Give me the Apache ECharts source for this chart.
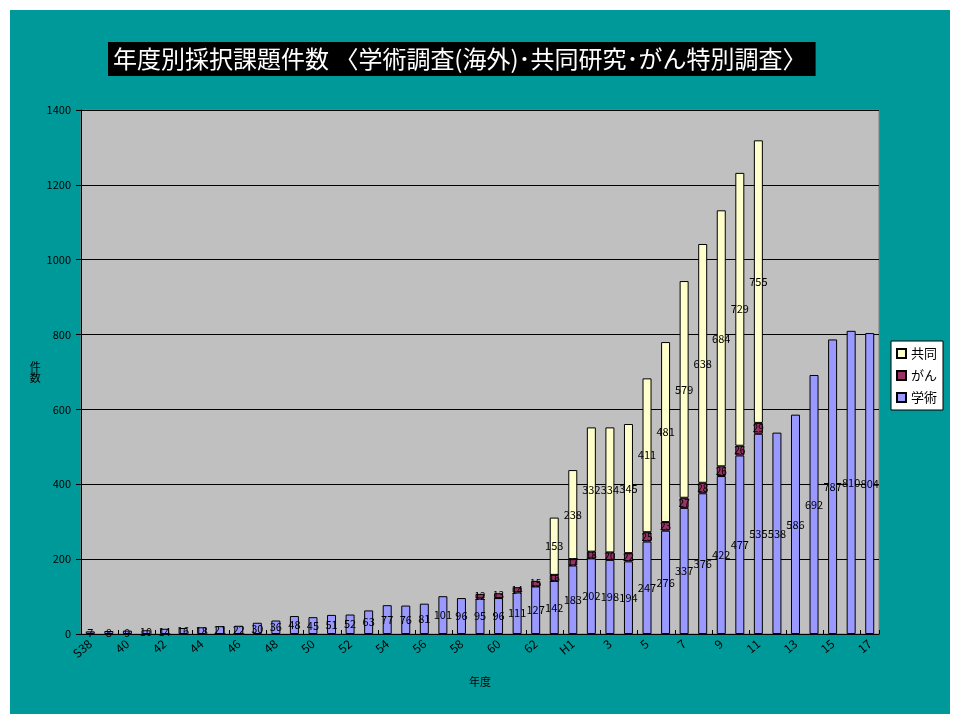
<!DOCTYPE html>
<html><head><meta charset="utf-8">
<script src="https://cdn.jsdelivr.net/npm/echarts@6/dist/echarts.min.js"></script>
<style>
html,body{margin:0;padding:0;background:#fff;width:960px;height:724px;overflow:hidden;}
#c{position:absolute;left:10px;top:10px;width:940px;height:704px;}
</style></head>
<body><div id="c"></div>
<script>
const categories = ['S38','39','40','41','42','43','44','45','46','47','48','49','50','51','52','53','54','55','56','57','58','59','60','61','62','63',
  'H1','2','3','4','5','6','7','8','9','10','11','12','13','14','15','16','17'];
const gakujutsu = [7,8,9,10,14,16,18,21,22,30,36,48,45,51,52,63,77,76,81,101,96,95,96,111,127,142,
  183,202,198,194,247,276,337,376,422,477,535,538,586,692,787,810,804];
const gan = [null,null,null,null,null,null,null,null,null,null,null,null,null,null,null,null,null,null,null,null,null,12,13,14,15,16,
  17,18,20,22,25,23,27,28,26,26,29,null,null,null,null,null,null];
const kyodo = [null,null,null,null,null,null,null,null,null,null,null,null,null,null,null,null,null,null,null,null,null,null,null,null,null,153,
  238,332,334,345,411,481,579,638,684,729,755,null,null,null,null,null,null];
const yTicks = [0,200,400,600,800,1000,1200,1400];

const JP = '"Noto Sans CJK JP", sans-serif';
const chart = echarts.init(document.getElementById('c'));
const lbl = {show:true, position:'inside', color:'#000', fontSize:11, fontFamily:JP};
chart.setOption({
  backgroundColor:'#009999',
  animation:false,
  title:{
    text:'年度別採択課題件数 〈学術調査(海外)･共同研究･がん特別調査〉',
    left:98, top:32, backgroundColor:'#000', padding:[5,9,5,5],
    textStyle:{color:'#fff', fontSize:24, fontWeight:'normal', fontFamily:JP}
  },
  legend:{
    orient:'vertical', left:881, top:331, backgroundColor:'#fff', borderColor:'#000', borderWidth:1,
    padding:[6,6,6,5], itemWidth:9, itemHeight:9, itemGap:9, icon:'rect',
    data:['共同','がん','学術'],
    textStyle:{color:'#000', fontSize:13, fontFamily:JP}
  },
  grid:{left:71, right:71, top:100, bottom:80, show:true, backgroundColor:'#C0C0C0', borderColor:'#808080', borderWidth:1},
  xAxis:{
    type:'category', data:categories, name:'年度', nameLocation:'middle', nameGap:42,
    nameTextStyle:{color:'#000', fontSize:11, fontFamily:JP},
    axisLine:{lineStyle:{color:'#000'}},
    axisTick:{show:true, inside:true, length:4, lineStyle:{color:'#000'}},
    axisLabel:{interval:1, rotate:40, color:'#000', fontSize:12, fontFamily:JP, margin:8}
  },
  yAxis:{
    type:'value', min:0, max:1400, interval:200,
    name:'件\n数', nameLocation:'middle', nameRotate:0, nameGap:38,
    nameTextStyle:{color:'#000', fontSize:11, fontFamily:JP},
    axisLine:{show:true, lineStyle:{color:'#000'}},
    axisTick:{show:true, length:5, lineStyle:{color:'#000'}},
    axisLabel:{color:'#000', fontSize:11, fontFamily:JP, margin:10,
      formatter:v=>yTicks.includes(v)?String(v):''},
    splitLine:{lineStyle:{color:'#000', width:1}}
  },
  series:[
    {name:'学術', type:'bar', stack:'a', data:gakujutsu, barWidth:9,
      itemStyle:{color:'#9999FF', borderColor:'#000', borderWidth:1}, label:lbl},
    {name:'がん', type:'bar', stack:'a', data:gan, barWidth:9,
      itemStyle:{color:'#993366', borderColor:'#000', borderWidth:1}, label:Object.assign({},lbl,{fontSize:10})},
    {name:'共同', type:'bar', stack:'a', data:kyodo, barWidth:9,
      itemStyle:{color:'#FFFFCC', borderColor:'#000', borderWidth:1}, label:lbl}
  ]
});
</script></body></html>
